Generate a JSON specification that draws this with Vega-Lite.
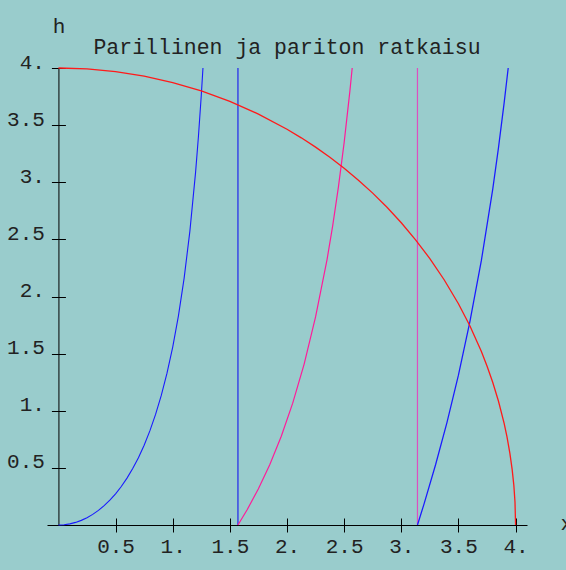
{
  "$schema": "https://vega.github.io/schema/vega-lite/v6.json",
  "width": 480,
  "height": 457,
  "autosize": {"type": "none"},
  "padding": {"left": 47, "top": 68, "right": 39, "bottom": 45},
  "background": "#99cccc",
  "config": {"view": {"stroke": null}, "font": "Liberation Mono"},
  "title": {"text": "Parillinen ja pariton ratkaisu", "anchor": "middle", "frame": "group", "font": "Liberation Mono", "fontSize": 21.5, "fontWeight": "normal", "color": "#222222", "baseline": "alphabetic", "offset": 0, "dy": 60},
  "data": {"values": [
    {"s": "even1", "i": 0, "x": 0, "h": 0},
    {"s": "even1", "i": 1, "x": 0.05, "h": 0.0025},
    {"s": "even1", "i": 2, "x": 0.1, "h": 0.01},
    {"s": "even1", "i": 3, "x": 0.15, "h": 0.0227},
    {"s": "even1", "i": 4, "x": 0.2, "h": 0.0405},
    {"s": "even1", "i": 5, "x": 0.25, "h": 0.0638},
    {"s": "even1", "i": 6, "x": 0.3, "h": 0.0928},
    {"s": "even1", "i": 7, "x": 0.35, "h": 0.1278},
    {"s": "even1", "i": 8, "x": 0.4, "h": 0.1691},
    {"s": "even1", "i": 9, "x": 0.45, "h": 0.2174},
    {"s": "even1", "i": 10, "x": 0.5, "h": 0.2732},
    {"s": "even1", "i": 11, "x": 0.55, "h": 0.3372},
    {"s": "even1", "i": 12, "x": 0.6, "h": 0.4105},
    {"s": "even1", "i": 13, "x": 0.65, "h": 0.4941},
    {"s": "even1", "i": 14, "x": 0.7, "h": 0.5896},
    {"s": "even1", "i": 15, "x": 0.75, "h": 0.6987},
    {"s": "even1", "i": 16, "x": 0.8, "h": 0.8237},
    {"s": "even1", "i": 17, "x": 0.85, "h": 0.9676},
    {"s": "even1", "i": 18, "x": 0.9, "h": 1.1341},
    {"s": "even1", "i": 19, "x": 0.95, "h": 1.3285},
    {"s": "even1", "i": 20, "x": 1.0, "h": 1.5574},
    {"s": "even1", "i": 21, "x": 1.05, "h": 1.8305},
    {"s": "even1", "i": 22, "x": 1.1, "h": 2.1612},
    {"s": "even1", "i": 23, "x": 1.15, "h": 2.57},
    {"s": "even1", "i": 24, "x": 1.2, "h": 3.0866},
    {"s": "even1", "i": 25, "x": 1.225, "h": 3.4002},
    {"s": "even1", "i": 26, "x": 1.25, "h": 3.762},
    {"s": "even1", "i": 27, "x": 1.2647, "h": 4.0},
    {"s": "vline1", "i": 0, "x": 1.5708, "h": 0},
    {"s": "vline1", "i": 1, "x": 1.5708, "h": 4},
    {"s": "odd", "i": 0, "x": 1.5708, "h": 0},
    {"s": "odd", "i": 1, "x": 1.65, "h": 0.131},
    {"s": "odd", "i": 2, "x": 1.75, "h": 0.317},
    {"s": "odd", "i": 3, "x": 1.85, "h": 0.5304},
    {"s": "odd", "i": 4, "x": 1.95, "h": 0.7771},
    {"s": "odd", "i": 5, "x": 2.05, "h": 1.0662},
    {"s": "odd", "i": 6, "x": 2.15, "h": 1.4088},
    {"s": "odd", "i": 7, "x": 2.25, "h": 1.8212},
    {"s": "odd", "i": 8, "x": 2.35, "h": 2.3209},
    {"s": "odd", "i": 9, "x": 2.4, "h": 2.62},
    {"s": "odd", "i": 10, "x": 2.45, "h": 2.9589},
    {"s": "odd", "i": 11, "x": 2.5, "h": 3.3466},
    {"s": "odd", "i": 12, "x": 2.55, "h": 3.7953},
    {"s": "odd", "i": 13, "x": 2.5705, "h": 4.0},
    {"s": "vline2", "i": 0, "x": 3.1416, "h": 0},
    {"s": "vline2", "i": 1, "x": 3.1416, "h": 4},
    {"s": "even2", "i": 0, "x": 3.1416, "h": 0},
    {"s": "even2", "i": 1, "x": 3.2, "h": 0.1871},
    {"s": "even2", "i": 2, "x": 3.3, "h": 0.5271},
    {"s": "even2", "i": 3, "x": 3.4, "h": 0.8986},
    {"s": "even2", "i": 4, "x": 3.5, "h": 1.3111},
    {"s": "even2", "i": 5, "x": 3.6, "h": 1.778},
    {"s": "even2", "i": 6, "x": 3.7, "h": 2.3112},
    {"s": "even2", "i": 7, "x": 3.8, "h": 2.9383},
    {"s": "even2", "i": 8, "x": 3.85, "h": 3.2985},
    {"s": "even2", "i": 9, "x": 3.9, "h": 3.6949},
    {"s": "even2", "i": 10, "x": 3.9355, "h": 4.0},
    {"s": "circle", "i": 0, "x": 0, "h": 4},
    {"s": "circle", "i": 1, "x": 0.25, "h": 3.9922},
    {"s": "circle", "i": 2, "x": 0.5, "h": 3.9686},
    {"s": "circle", "i": 3, "x": 0.75, "h": 3.9291},
    {"s": "circle", "i": 4, "x": 1.0, "h": 3.873},
    {"s": "circle", "i": 5, "x": 1.25, "h": 3.7997},
    {"s": "circle", "i": 6, "x": 1.5, "h": 3.7081},
    {"s": "circle", "i": 7, "x": 1.75, "h": 3.5969},
    {"s": "circle", "i": 8, "x": 2.0, "h": 3.4641},
    {"s": "circle", "i": 9, "x": 2.125, "h": 3.3888},
    {"s": "circle", "i": 10, "x": 2.25, "h": 3.3072},
    {"s": "circle", "i": 11, "x": 2.375, "h": 3.2186},
    {"s": "circle", "i": 12, "x": 2.5, "h": 3.1225},
    {"s": "circle", "i": 13, "x": 2.625, "h": 3.0182},
    {"s": "circle", "i": 14, "x": 2.75, "h": 2.9047},
    {"s": "circle", "i": 15, "x": 2.875, "h": 2.7810},
    {"s": "circle", "i": 16, "x": 3.0, "h": 2.6458},
    {"s": "circle", "i": 17, "x": 3.125, "h": 2.4961},
    {"s": "circle", "i": 18, "x": 3.25, "h": 2.3318},
    {"s": "circle", "i": 19, "x": 3.375, "h": 2.1466},
    {"s": "circle", "i": 20, "x": 3.5, "h": 1.9365},
    {"s": "circle", "i": 21, "x": 3.6, "h": 1.7436},
    {"s": "circle", "i": 22, "x": 3.7, "h": 1.5199},
    {"s": "circle", "i": 23, "x": 3.75, "h": 1.3919},
    {"s": "circle", "i": 24, "x": 3.8, "h": 1.249},
    {"s": "circle", "i": 25, "x": 3.85, "h": 1.0851},
    {"s": "circle", "i": 26, "x": 3.9, "h": 0.8888},
    {"s": "circle", "i": 27, "x": 3.925, "h": 0.7708},
    {"s": "circle", "i": 28, "x": 3.95, "h": 0.6285},
    {"s": "circle", "i": 29, "x": 3.97, "h": 0.4874},
    {"s": "circle", "i": 30, "x": 3.985, "h": 0.3461},
    {"s": "circle", "i": 31, "x": 3.995, "h": 0.1999},
    {"s": "circle", "i": 32, "x": 4.0, "h": 0}
  ]},
  "layer": [
    {
      "mark": {"type": "line", "clip": false},
      "encoding": {
        "x": {"field": "x", "type": "quantitative",
          "scale": {"domain": [-0.1, 4.1], "nice": false, "zero": false},
          "axis": {"orient": "bottom", "values": [0.5, 1, 1.5, 2, 2.5, 3, 3.5, 4],
            "labelExpr": "datum.value % 1 === 0 ? datum.value + '.' : datum.label",
            "grid": false, "domainColor": "black", "domainWidth": 1, "tickColor": "black", "tickWidth": 1, "tickSize": 7,
            "labelFont": "Liberation Mono", "labelFontSize": 21, "labelColor": "#222222", "labelBaseline": "alphabetic", "labelPadding": 20, "labelAlign": "center", "labelFlush": false, "labelOverlap": false,
            "title": "x", "titleX": 513, "titleY": 4, "titleAlign": "left", "titleBaseline": "alphabetic", "titleFont": "Liberation Mono", "titleFontWeight": "normal", "titleFontSize": 21, "titleColor": "#222222"}},
        "y": {"field": "h", "type": "quantitative",
          "scale": {"domain": [0, 4], "nice": false, "zero": false},
          "axis": {"orient": "left", "offset": -11.43, "values": [0.5, 1, 1.5, 2, 2.5, 3, 3.5, 4],
            "labelExpr": "datum.value % 1 === 0 ? datum.value + '.' : datum.label",
            "grid": false, "domainColor": "black", "domainWidth": 1, "tickColor": "black", "tickWidth": 1, "tickSize": 7,
            "labelFont": "Liberation Mono", "labelFontSize": 21, "labelColor": "#222222", "labelBaseline": "middle", "labelAlign": "right", "labelPadding": 7, "labelOffset": -6, "labelFlush": false, "labelOverlap": false,
            "title": "h", "titleAngle": 0, "titleX": 0, "titleY": -36, "titleAlign": "center", "titleBaseline": "alphabetic", "titleFont": "Liberation Mono", "titleFontWeight": "normal", "titleFontSize": 21, "titleColor": "#222222"}},
        "color": {"field": "s", "type": "nominal",
          "scale": {"domain": ["even1", "vline1", "odd", "vline2", "even2", "circle"],
            "range": ["#1a1aff", "#1a1aee", "#ff1a99", "#dd4fc0", "#1a1aff", "#ff1a1a"]},
          "legend": null},
        "strokeWidth": {"field": "s", "type": "nominal",
          "scale": {"domain": ["even1", "vline1", "odd", "vline2", "even2", "circle"],
            "range": [1.1, 1.3, 1.1, 1.6, 1.1, 1.1]},
          "legend": null},
        "order": {"field": "i", "type": "quantitative"}
      }
    },
    {
      "mark": {"type": "line", "opacity": 0},
      "encoding": {
        "x": {"field": "x", "type": "quantitative",
          "axis": {"orient": "bottom", "offset": -7, "values": [0.5, 1, 1.5, 2, 2.5, 3, 3.5, 4], "domain": false, "labels": false, "grid": false, "tickColor": "black", "tickWidth": 1, "tickSize": 7, "title": null}},
        "y": {"field": "h", "type": "quantitative",
          "axis": {"orient": "left", "offset": -18.43, "values": [0.5, 1, 1.5, 2, 2.5, 3, 3.5, 4], "domain": false, "labels": false, "grid": false, "tickColor": "black", "tickWidth": 1, "tickSize": 7, "title": null}},
        "detail": {"field": "s", "type": "nominal"}
      }
    }
  ],
  "resolve": {"axis": {"x": "independent", "y": "independent"}}
}
